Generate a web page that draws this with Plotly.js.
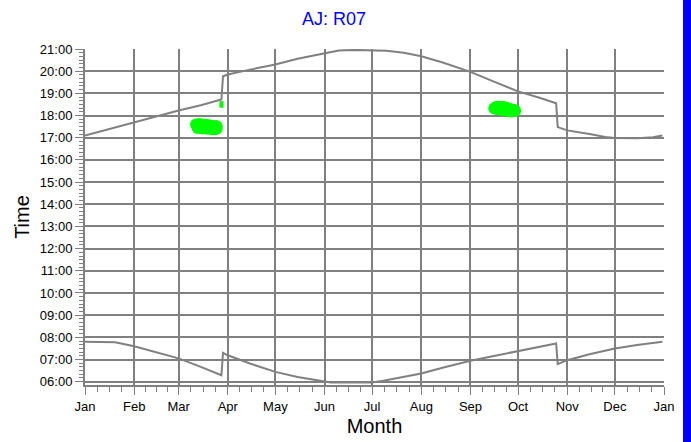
<!DOCTYPE html>
<html>
<head>
<meta charset="utf-8">
<script src="https://cdn.plot.ly/plotly-3.0.1.min.js"></script>
<style>
  html, body { margin:0; padding:0; background:#fff; }
  #chart { width:691px; height:442px; position:relative; }
  #bar { position:absolute; left:683px; top:0; width:8px; height:442px; background:#0000ff; }
</style>
</head>
<body>
<div id="chart"></div>
<div id="bar"></div>
<script>
// ---- data (hours as decimal) ----
const sunsetDates = ['2021-01-01','2021-01-16','2021-02-01','2021-02-15','2021-03-01','2021-03-15','2021-03-27','2021-03-28','2021-03-29','2021-04-01','2021-04-15','2021-05-01','2021-05-15','2021-06-01','2021-06-10','2021-06-20','2021-07-01','2021-07-10','2021-07-21','2021-08-01','2021-08-15','2021-09-01','2021-09-15','2021-10-01','2021-10-15','2021-10-24','2021-10-25','2021-10-26','2021-11-01','2021-11-15','2021-11-25','2021-12-01','2021-12-15','2021-12-25','2021-12-31'];
const sunsetTimes = [17.10,17.39,17.69,17.96,18.23,18.46,18.70,18.72,19.77,19.85,20.07,20.30,20.56,20.80,20.93,20.96,20.95,20.92,20.83,20.67,20.38,19.97,19.55,19.09,18.79,18.57,18.55,17.48,17.33,17.17,17.03,16.99,16.98,17.02,17.10];

const sunriseDates = ['2021-01-01','2021-01-20','2021-02-01','2021-02-15','2021-03-01','2021-03-15','2021-03-27','2021-03-28','2021-03-29','2021-04-01','2021-04-15','2021-05-01','2021-05-15','2021-05-24','2021-06-01','2021-06-05','2021-06-30','2021-07-01','2021-07-08','2021-07-15','2021-08-01','2021-08-15','2021-09-01','2021-09-15','2021-10-01','2021-10-15','2021-10-24','2021-10-25','2021-10-26','2021-11-01','2021-11-15','2021-12-01','2021-12-15','2021-12-31'];
const sunriseTimes = [7.80,7.78,7.60,7.32,7.05,6.67,6.31,6.29,7.30,7.19,6.82,6.44,6.21,6.10,5.98,5.96,5.96,5.96,6.04,6.14,6.37,6.64,6.94,7.15,7.39,7.57,7.72,7.72,6.79,6.97,7.24,7.50,7.65,7.80];

const springDates = ['2021-03-12','2021-03-13','2021-03-14','2021-03-15','2021-03-16','2021-03-17','2021-03-18','2021-03-19','2021-03-20','2021-03-21','2021-03-22','2021-03-23','2021-03-24','2021-03-25','2021-03-13','2021-03-16','2021-03-19','2021-03-22','2021-03-24','2021-03-25'];
const springTimes = [17.60,17.56,17.62,17.52,17.60,17.54,17.58,17.50,17.56,17.48,17.54,17.46,17.52,17.52,17.44,17.42,17.40,17.38,17.38,17.40];

const extraDates = ['2021-03-28','2021-03-28'];
const extraTimes = [18.56,18.44];

const autumnDates = ['2021-09-16','2021-09-17','2021-09-18','2021-09-19','2021-09-20','2021-09-21','2021-09-22','2021-09-23','2021-09-24','2021-09-25','2021-09-26','2021-09-27','2021-09-28','2021-09-29','2021-09-18','2021-09-21','2021-09-24','2021-09-27','2021-09-29'];
const autumnTimes = [18.32,18.38,18.40,18.34,18.40,18.34,18.38,18.30,18.34,18.28,18.30,18.24,18.26,18.24,18.28,18.24,18.20,18.18,18.20];

const yTickVals = [6,7,8,9,10,11,12,13,14,15,16,17,18,19,20,21];
const yTickText = yTickVals.map(h => (h < 10 ? '0' : '') + h + ':00');

// quarter-month minor ticks
const minorX = [];
for (let m = 0; m < 12; m++) {
  const a = Date.UTC(2021, m, 1), b = Date.UTC(2021, m + 1, 1);
  for (const f of [0.25, 0.5, 0.75]) {
    minorX.push(new Date(a + (b - a) * f).toISOString().slice(0, 19).replace('T', ' '));
  }
}

const grey = '#808080';
const green = '#00ff00';

const traces = [
  {x: sunsetDates, y: sunsetTimes, type: 'scatter', mode: 'lines', line: {color: grey, width: 2, shape: 'linear'}, hoverinfo: 'skip'},
  {x: sunriseDates, y: sunriseTimes, type: 'scatter', mode: 'lines', line: {color: grey, width: 2}, hoverinfo: 'skip'},
  {x: springDates, y: springTimes, type: 'scatter', mode: 'markers', marker: {color: green, size: 12, symbol: 'circle'}},
  {x: extraDates, y: extraTimes, type: 'scatter', mode: 'markers', marker: {color: green, size: 4, symbol: 'square'}},
  {x: autumnDates, y: autumnTimes, type: 'scatter', mode: 'markers', marker: {color: green, size: 12, symbol: 'circle'}}
];

const font = 'Liberation Sans, Arial, sans-serif';

const layout = {
  width: 691, height: 442,
  margin: {l: 85, r: 27, t: 49, b: 57},
  paper_bgcolor: '#ffffff', plot_bgcolor: '#ffffff',
  showlegend: false,
  font: {family: font, size: 13, color: '#000'},
  title: {text: 'AJ: R07', x: 334/691, xref: 'container', xanchor: 'center', y: 1 - 19/442, yref: 'container', yanchor: 'middle', font: {family: font, size: 18, color: '#0000ff'}},
  xaxis: {
    type: 'date', range: ['2021-01-01', '2022-01-01'],
    tickmode: 'linear', tick0: '2021-01-01', dtick: 'M1', tickformat: '%b',
    showgrid: true, gridcolor: grey, gridwidth: 2,
    showline: true, linecolor: grey, linewidth: 2,
    ticks: 'outside', ticklen: 8, tickwidth: 1, tickcolor: grey,
    tickfont: {family: font, size: 13, color: '#000'},
    minor: {tickmode: 'array', tickvals: minorX, ticks: 'outside', ticklen: 5, tickwidth: 1, tickcolor: grey, showgrid: false},
    zeroline: false,
    title: {text: 'Month', standoff: 6, font: {family: font, size: 20, color: '#000'}}
  },
  yaxis: {
    range: [5.85, 21],
    tickmode: 'array', tickvals: yTickVals, ticktext: yTickText,
    showgrid: true, gridcolor: grey, gridwidth: 2,
    showline: true, linecolor: grey, linewidth: 2,
    ticks: 'outside', ticklen: 8, tickwidth: 1, tickcolor: grey,
    tickfont: {family: font, size: 13, color: '#000'},
    minor: {tickmode: 'linear', tick0: 0, dtick: 1/6, ticks: 'outside', ticklen: 4, tickwidth: 1, tickcolor: grey, showgrid: false},
    zeroline: false,
    title: {text: 'Time', standoff: 5, font: {family: font, size: 20, color: '#000'}}
  }
};

Plotly.newPlot('chart', traces, layout, {displayModeBar: false, staticPlot: true});
</script>
</body>
</html>
